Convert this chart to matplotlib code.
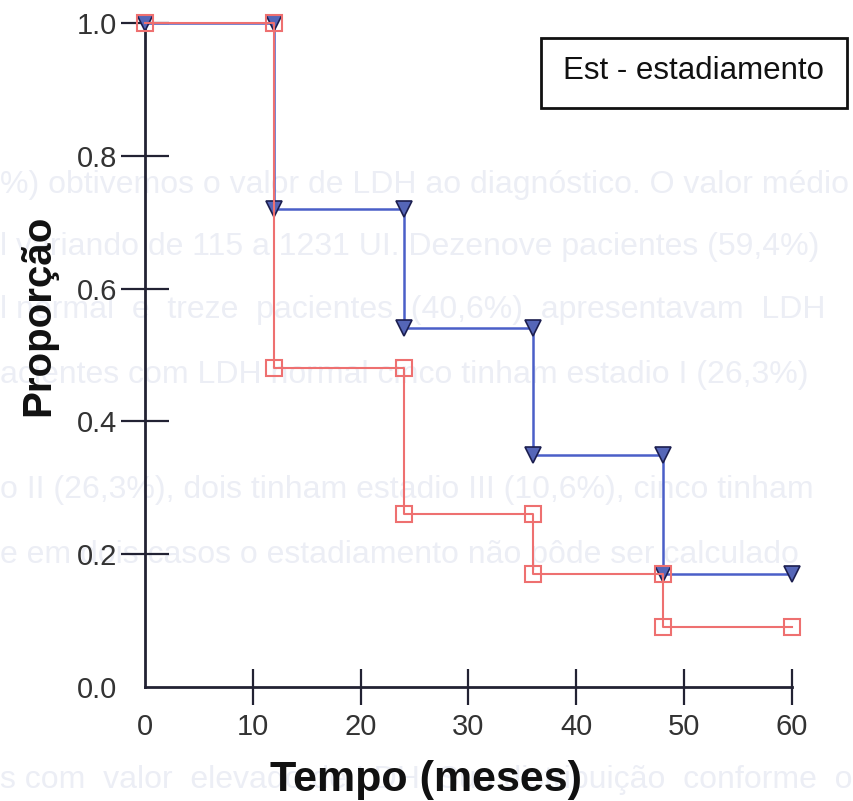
import matplotlib
matplotlib.use("Agg")
import matplotlib.pyplot as plt
from matplotlib import font_manager
from matplotlib.patches import Rectangle

# ---- data ----
times = [0, 12, 24, 36, 48, 60]
surv_blue = [1.0, 0.72, 0.54, 0.35, 0.17, 0.17]
surv_red = [1.0, 0.48, 0.26, 0.17, 0.09, 0.09]
xticks = [0, 10, 20, 30, 40, 50, 60]
yticks = [0.0, 0.2, 0.4, 0.6, 0.8, 1.0]
ytick_labels = ["0.0", "0.2", "0.4", "0.6", "0.8", "1.0"]
legend_text = "Est - estadiamento"
xlabel = "Tempo (meses)"
ylabel = "Proporção"
bg_lines = [
    "%) obtivemos o valor de LDH ao diagnóstico. O valor médio",
    "l variando de 115 a 1231 UI. Dezenove pacientes (59,4%)",
    "l normal  e  treze  pacientes  (40,6%)  apresentavam  LDH",
    "acientes com LDH normal cinco tinham estadio I (26,3%)",
    "o II (26,3%), dois tinham estadio III (10,6%), cinco tinham",
    "e em dois casos o estadiamento não pôde ser calculado",
    "s com  valor  elevado de LDH. Sua distribuição  conforme  o",
]
bg_y = [185, 247, 310, 375, 490, 555, 780]

names = {f.name for f in font_manager.fontManager.ttflist}
narrow = "Liberation Sans Narrow" if "Liberation Sans Narrow" in names else "Liberation Sans"

W, H = 854, 801
fig = plt.figure(figsize=(W / 100, H / 100), dpi=100)
fig.patch.set_facecolor("white")

# faint bleed-through text from the scanned page (behind everything)
for txt, yy in zip(bg_lines, bg_y):
    fig.text(0.0, 1 - yy / H, txt, ha="left", va="center", fontsize=23,
             family=narrow, color="#eceef5", zorder=0)

ax = fig.add_axes([145 / W, 1 - 687 / H, (792 - 145) / W, (687 - 23) / H])
ax.set_zorder(2)
ax.patch.set_alpha(0)
ax.set_xlim(0, 60)
ax.set_ylim(0, 1.0)

def step_markers(t, s):
    mx, my = [], []
    for i in range(len(t) - 1):
        mx += [t[i], t[i + 1]]
        my += [s[i], s[i]]
    return mx, my

ax.plot(times, surv_blue, drawstyle="steps-post", color="#4a5fc8", lw=1.8,
        clip_on=False, zorder=3)
bx, by = step_markers(times, surv_blue)
ax.plot(bx, by, ls="none", marker="v", ms=11, mfc="#5566b8", mec="#1c1f50",
        mew=1.2, clip_on=False, zorder=4)

ax.plot(times, surv_red, drawstyle="steps-post", color="#ee7070", lw=1.5,
        clip_on=False, zorder=5)
rx, ry = step_markers(times, surv_red)
ax.plot(rx, ry, ls="none", marker="s", ms=12, mfc="none", mec="#ee7070",
        mew=1.5, clip_on=False, zorder=6)

for side in ["top", "right"]:
    ax.spines[side].set_visible(False)
for side in ["left", "bottom"]:
    ax.spines[side].set_linewidth(2)
    ax.spines[side].set_color("#222233")
    ax.spines[side].set_zorder(2)

ax.set_xticks(xticks)
ax.set_xticklabels([str(v) for v in xticks], family=narrow, fontsize=21,
                   color="#333333")
ax.set_yticks(yticks)
ax.set_yticklabels(ytick_labels, family=narrow, fontsize=21, color="#333333")
ax.tick_params(axis="y", direction="inout", length=34, width=1.6,
               color="#222233", pad=3)
ax.tick_params(axis="x", direction="inout", length=26, width=1.6,
               color="#222233", pad=6)
# no tick marks at the origin corner
ax.yaxis.get_major_ticks()[0].tick1line.set_visible(False)
ax.xaxis.get_major_ticks()[0].tick1line.set_visible(False)

ax.set_xlabel(xlabel, family="Liberation Sans", fontweight="bold",
              fontsize=31, color="#111111")
ax.xaxis.set_label_coords((426 - 145) / 647, (687 - 780) / 664)
ax.xaxis.label.set_va("center")
ax.set_ylabel(ylabel, family="Liberation Sans", fontweight="bold",
              fontsize=29, color="#111111")
ax.yaxis.set_label_coords((38 - 145) / 647, (687 - 315) / 664)
ax.yaxis.label.set_va("center")

# legend box
rect = Rectangle((541 / W, 1 - 108 / H), (847 - 541) / W, (108 - 38) / H,
                 transform=fig.transFigure, facecolor="white",
                 edgecolor="#111111", lw=2, zorder=10)
fig.patches.append(rect)
fig.text((541 + 847) / 2 / W, 1 - 71 / H, legend_text, ha="center",
         va="center", fontsize=22.5, family="Liberation Sans",
         color="#111111", zorder=11)

fig.savefig("out.png", dpi=100)
